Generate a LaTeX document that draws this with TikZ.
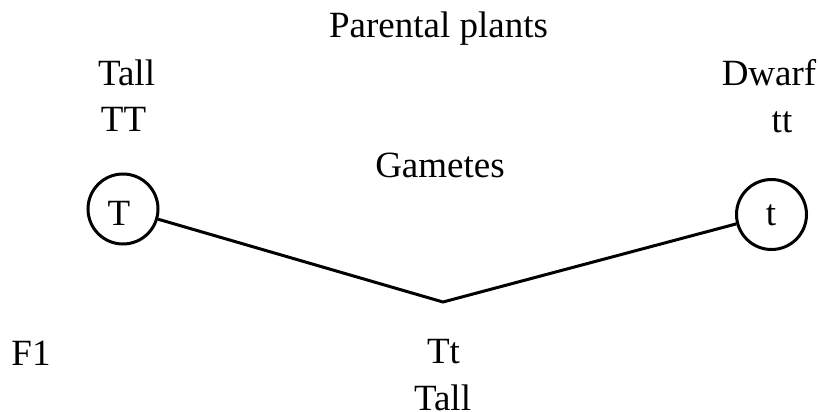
\documentclass[tikz,border=0pt]{standalone}
\usepackage{fontspec}
\setmainfont{Liberation Serif}
\begin{document}
\begin{tikzpicture}[x=1pt,y=-1pt,
  lbl/.style={anchor=base,inner sep=0pt,font=\fontsize{37}{44}\selectfont},
  gcirc/.style={circle,draw,line width=3pt,minimum size=70pt,inner sep=0pt},
  link/.style={line width=3pt}]
\useasboundingbox (0,0) rectangle (819,412);
\node[lbl] (title) at (438.5,38) {Parental plants};
\node[lbl] (talltop) at (126.5,85) {Tall};
\node[lbl] (TT) at (123.5,131) {TT};
\node[lbl] (dwarf) at (769,85) {Dwarf};
\node[lbl] (tt) at (782,132) {tt};
\node[lbl] (gam) at (440,177) {Gametes};
\node[gcirc] (Tc) at (123,209) {};
\node[lbl] (Tl) at (119,225) {T};
\node[gcirc] (tc) at (771.5,214.5) {};
\node[lbl] (tl) at (771,225) {t};
\coordinate (apex) at (443,302);
\draw[link] (Tc) -- (apex) -- (tc);
\node[lbl] (F1) at (31,365) {F1};
\node[lbl] (Tt) at (443.5,363) {Tt};
\node[lbl] (tallbot) at (442.5,410) {Tall};
\end{tikzpicture}
\end{document}
